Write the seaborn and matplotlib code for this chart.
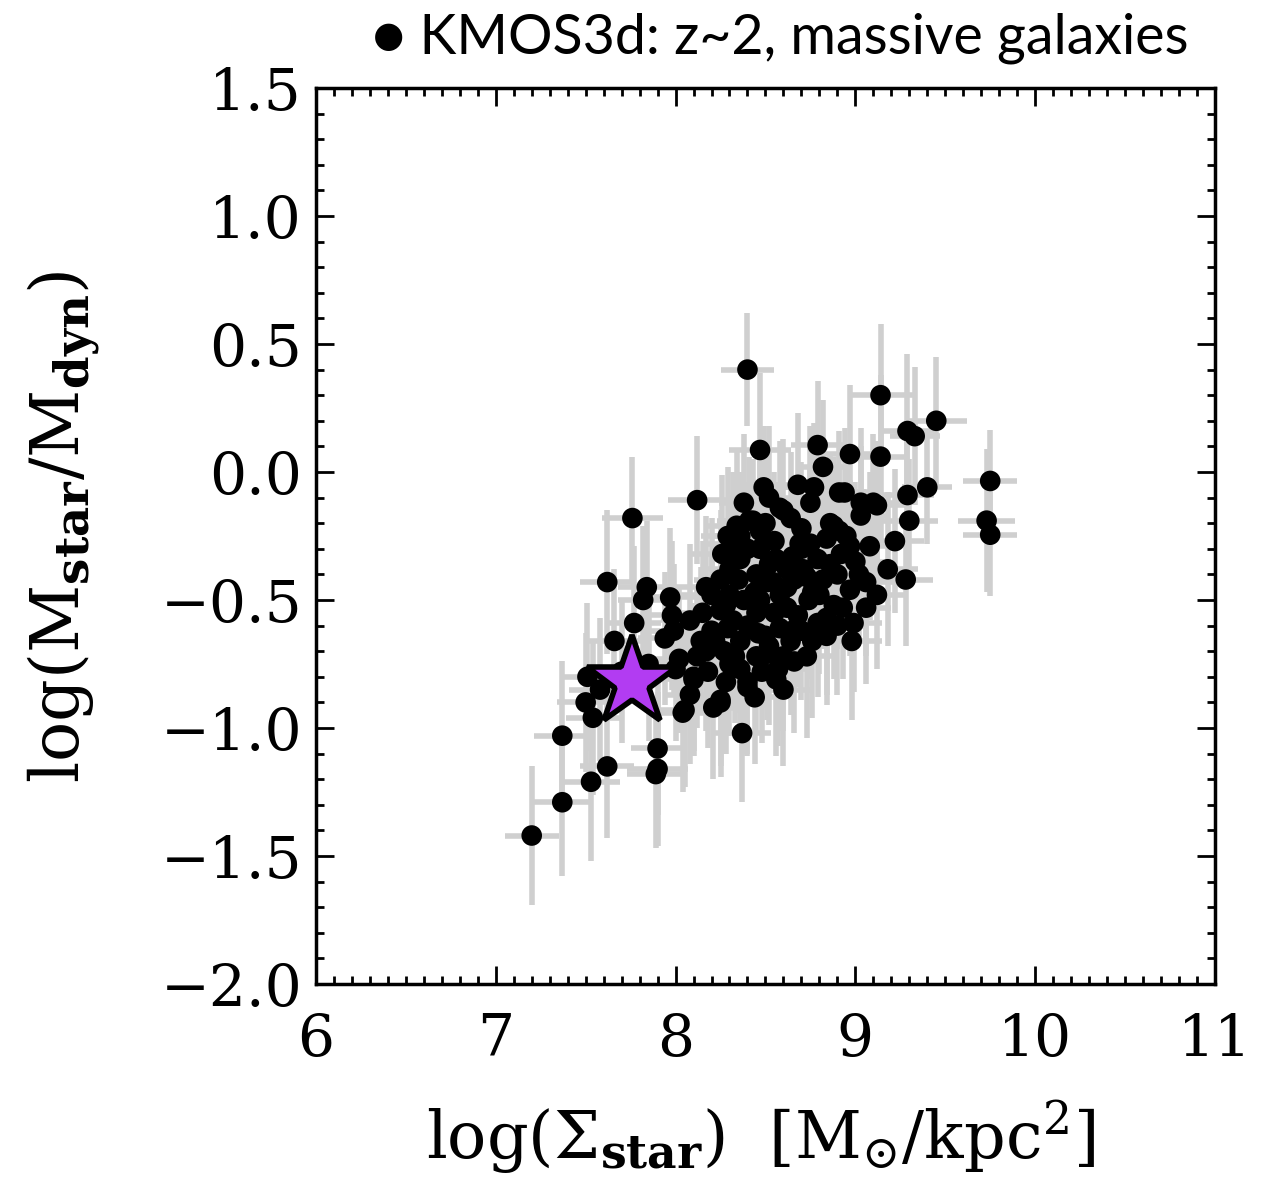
import numpy as np
import pandas as pd
import matplotlib
matplotlib.use("Agg")
import matplotlib.pyplot as plt
import seaborn as sns
from matplotlib.ticker import MultipleLocator

# --- upper / right outliers ---
x_upper = [8.40, 9.14, 9.29, 9.33, 9.45, 9.75, 9.73, 9.75,
           8.47, 8.79, 8.97, 9.14, 8.82, 8.49, 8.68, 8.77,
           9.29, 9.40, 9.30, 9.28, 9.18, 9.22, 8.94, 9.10,
           9.03, 8.91]
y_upper = [0.40, 0.30, 0.16, 0.14, 0.20, -0.035, -0.19, -0.245,
           0.086, 0.105, 0.07, 0.06, 0.02, -0.06, -0.05, -0.06,
           -0.09, -0.06, -0.19, -0.42, -0.38, -0.27, -0.08, -0.12,
           -0.12, -0.08]
xerr_upper = [0.15, 0.18, 0.16, 0.14, 0.17, 0.15, 0.16, 0.15,
              0.17, 0.15, 0.18, 0.16, 0.14, 0.17, 0.15, 0.16,
              0.15, 0.14, 0.16, 0.15, 0.17, 0.16, 0.15, 0.14,
              0.16, 0.15]
yerr_upper = [0.22, 0.28, 0.30, 0.27, 0.25, 0.20, 0.28, 0.24,
              0.30, 0.25, 0.27, 0.32, 0.26, 0.24, 0.28, 0.25,
              0.27, 0.22, 0.24, 0.26, 0.30, 0.28, 0.25, 0.27,
              0.29, 0.24]

# --- main cluster ---
x_core = [8.12, 8.60, 8.75, 8.58, 8.43, 8.34, 8.29, 8.26,
          8.36, 8.47, 8.56, 8.69, 8.71, 8.51, 8.41, 8.86,
          8.91, 8.75, 8.65, 8.36, 8.54, 8.73, 8.86, 8.97,
          9.06, 8.88, 8.79, 9.12, 8.47, 9.03, 8.97, 9.08,
          8.17, 8.08, 8.25, 8.32, 8.47, 8.62, 8.76, 8.84,
          8.58, 8.02, 8.17, 8.30, 8.45, 8.51, 8.64, 8.73,
          8.84, 8.36, 8.10, 8.40, 8.25, 8.04, 8.08, 8.56,
          8.29, 7.99, 8.40, 8.99, 9.06, 8.93, 8.65, 8.45,
          8.79, 8.37, 8.05, 8.21, 8.25, 8.10,
          8.45, 8.62, 8.70, 8.55, 8.90, 9.00, 8.35, 8.25,
          8.20, 8.40, 8.55, 8.68, 8.95, 8.30, 8.50, 8.38,
          8.62, 8.80, 8.15, 8.33, 8.18, 8.60, 8.48, 8.70,
          8.32, 8.40, 8.50, 8.52, 8.58, 8.66, 8.74, 8.82,
          8.88, 8.92, 8.44, 8.28, 8.22, 8.36, 8.52, 8.66,
          8.76, 8.90, 8.14, 8.28, 8.44, 8.60, 8.70, 8.84,
          8.64, 8.52, 8.38, 8.30, 8.20, 8.12, 9.02, 9.12,
          8.98, 8.46, 8.57, 8.27, 7.98, 8.00]
y_core = [-0.11, -0.15, -0.12, -0.14, -0.19, -0.21, -0.25, -0.32,
          -0.34, -0.30, -0.34, -0.28, -0.38, -0.43, -0.19, -0.20,
          -0.23, -0.28, -0.33, -0.25, -0.43, -0.41, -0.36, -0.46,
          -0.43, -0.21, -0.34, -0.13, -0.23, -0.17, -0.29, -0.29,
          -0.45, -0.58, -0.54, -0.58, -0.50, -0.53, -0.47, -0.57,
          -0.61, -0.73, -0.70, -0.75, -0.72, -0.71, -0.66, -0.72,
          -0.64, -0.66, -0.81, -0.84, -0.90, -0.94, -0.87, -0.81,
          -0.61, -0.62, -0.82, -0.59, -0.53, -0.53, -0.62, -0.55,
          -0.59, -1.02, -0.93, -0.92, -0.89, -0.80,
          -0.40, -0.45, -0.22, -0.27, -0.40, -0.35, -0.42, -0.42,
          -0.62, -0.60, -0.55, -0.56, -0.25, -0.48, -0.64, -0.50,
          -0.38, -0.48, -0.55, -0.72, -0.78, -0.72, -0.78, -0.62,
          -0.28, -0.30, -0.20, -0.36, -0.48, -0.42, -0.50, -0.42,
          -0.52, -0.32, -0.47, -0.52, -0.66, -0.77, -0.68, -0.74,
          -0.66, -0.60, -0.66, -0.82, -0.88, -0.85, -0.30, -0.26,
          -0.18, -0.10, -0.12, -0.38, -0.48, -0.72, -0.40, -0.48,
          -0.66, -0.63, -0.77, -0.70, -0.56, -0.77]
xerr_core = [0.16, 0.15, 0.17, 0.14, 0.16, 0.18, 0.15, 0.17,
             0.15, 0.16, 0.14, 0.17, 0.15, 0.16, 0.18, 0.15,
             0.17, 0.14, 0.16, 0.15, 0.17, 0.16, 0.15, 0.14,
             0.16, 0.15, 0.17, 0.16, 0.14, 0.15, 0.16, 0.17,
             0.18, 0.16, 0.15, 0.17, 0.14, 0.16, 0.15, 0.17,
             0.16, 0.18, 0.15, 0.16, 0.17, 0.14, 0.16, 0.15,
             0.17, 0.15, 0.16, 0.18, 0.17, 0.16, 0.15, 0.14,
             0.16, 0.17, 0.15, 0.16, 0.14, 0.15, 0.17, 0.16,
             0.15, 0.16, 0.17, 0.15, 0.16, 0.18,
             0.15, 0.16, 0.14, 0.17, 0.15, 0.16, 0.17, 0.15,
             0.16, 0.14, 0.17, 0.15, 0.16, 0.15, 0.17, 0.16,
             0.14, 0.16, 0.15, 0.17, 0.16, 0.15, 0.17, 0.16,
             0.15, 0.17, 0.16, 0.14, 0.16, 0.15, 0.17, 0.16,
             0.15, 0.16, 0.14, 0.17, 0.15, 0.16, 0.17, 0.15,
             0.16, 0.15, 0.17, 0.16, 0.14, 0.16, 0.15, 0.17,
             0.16, 0.15, 0.14, 0.16, 0.17, 0.15, 0.16, 0.15,
             0.17, 0.16, 0.15, 0.16, 0.17, 0.15]
yerr_core = [0.25, 0.28, 0.30, 0.26, 0.24, 0.29, 0.27, 0.31,
             0.26, 0.28, 0.30, 0.27, 0.29, 0.32, 0.25, 0.28,
             0.26, 0.30, 0.27, 0.25, 0.31, 0.28, 0.30, 0.26,
             0.29, 0.27, 0.28, 0.25, 0.30, 0.27, 0.26, 0.29,
             0.28, 0.30, 0.27, 0.31, 0.26, 0.29, 0.28, 0.30,
             0.27, 0.29, 0.31, 0.28, 0.30, 0.26, 0.29, 0.32,
             0.27, 0.28, 0.30, 0.26, 0.29, 0.31, 0.27, 0.30,
             0.28, 0.26, 0.29, 0.27, 0.30, 0.28, 0.26, 0.31,
             0.29, 0.27, 0.30, 0.28, 0.26, 0.29,
             0.28, 0.30, 0.26, 0.27, 0.29, 0.31, 0.28, 0.27,
             0.30, 0.26, 0.29, 0.28, 0.27, 0.30, 0.28, 0.29,
             0.27, 0.31, 0.28, 0.26, 0.30, 0.29, 0.28, 0.27,
             0.28, 0.26, 0.30, 0.27, 0.29, 0.28, 0.31, 0.27,
             0.29, 0.26, 0.28, 0.30, 0.27, 0.29, 0.31, 0.28,
             0.30, 0.27, 0.29, 0.28, 0.26, 0.30, 0.27, 0.29,
             0.26, 0.28, 0.27, 0.29, 0.30, 0.28, 0.27, 0.29,
             0.31, 0.28, 0.30, 0.27, 0.29, 0.28]

# --- lower-left tail ---
x_tail = [7.76, 7.62, 7.84, 7.82, 7.97, 7.77, 7.66, 7.94,
          7.51, 7.50, 7.54, 7.58, 7.37, 7.90, 7.90, 7.89,
          7.62, 7.53, 7.37, 7.20, 7.70, 7.85]
y_tail = [-0.18, -0.43, -0.45, -0.50, -0.49, -0.59, -0.66, -0.65,
          -0.80, -0.90, -0.96, -0.85, -1.03, -1.08, -1.16, -1.18,
          -1.15, -1.21, -1.29, -1.42, -0.78, -0.75]
xerr_tail = [0.17, 0.15, 0.16, 0.14, 0.17, 0.15, 0.16, 0.15,
             0.14, 0.16, 0.15, 0.17, 0.16, 0.15, 0.17, 0.16,
             0.15, 0.16, 0.17, 0.15, 0.16, 0.15]
yerr_tail = [0.24, 0.28, 0.26, 0.29, 0.27, 0.30, 0.28, 0.26,
             0.29, 0.27, 0.30, 0.28, 0.29, 0.26, 0.30, 0.29,
             0.28, 0.31, 0.29, 0.27, 0.28, 0.30]

# highlighted object
star_x = [7.76]
star_y = [-0.82]

df = pd.DataFrame({
    "sigma": x_upper + x_core + x_tail,
    "ratio": y_upper + y_core + y_tail,
    "xerr": xerr_upper + xerr_core + xerr_tail,
    "yerr": yerr_upper + yerr_core + yerr_tail,
})

sns.set_style("ticks")
plt.rcParams["mathtext.fontset"] = "dejavuserif"
plt.rcParams["font.family"] = ["DejaVu Serif"]
plt.rcParams["text.color"] = "black"
plt.rcParams["axes.labelcolor"] = "black"

fig = plt.figure(figsize=(12.73, 11.81), dpi=100)
ax = fig.add_axes([0.2482, 0.1668, 0.7062, 0.7587])

ax.errorbar(df["sigma"], df["ratio"], xerr=df["xerr"], yerr=df["yerr"],
            fmt="none", ecolor="#cfcfcf", elinewidth=4, capsize=0, zorder=1)
sns.scatterplot(data=df, x="sigma", y="ratio", ax=ax, color="black",
                s=220, edgecolor="none", linewidth=0, zorder=2, legend=False)
ax.plot(star_x, star_y, marker="*", markersize=68, color="#b23cf2",
        markeredgecolor="black", markeredgewidth=4, linestyle="none", zorder=3)

ax.set_xlim(6, 11)
ax.set_ylim(-2.0, 1.5)
ax.xaxis.set_major_locator(MultipleLocator(1))
ax.xaxis.set_minor_locator(MultipleLocator(0.1))
ax.yaxis.set_minor_locator(MultipleLocator(0.1))
ax.set_yticks([1.5, 1.0, 0.5, 0.0, -0.5, -1.0, -1.5, -2.0])
ax.set_yticklabels(["1.5", "1.0", "0.5", "0.0", "\u22120.5", "\u22121.0", "\u22121.5", "\u22122.0"])
ax.tick_params(which="both", direction="in", top=True, right=True,
               labelsize=42, width=2, color="black", labelcolor="black")
ax.tick_params(axis="x", pad=20)
ax.tick_params(axis="y", pad=10)
ax.tick_params(which="major", length=13)
ax.tick_params(which="minor", length=6)
for sp in ax.spines.values():
    sp.set_linewidth(2.5)
    sp.set_color("black")

ax.set_xlabel(r"$\mathrm{log(\Sigma_{\mathbf{star}})\ \ [M_{\odot}/kpc^{2}]}$", fontsize=47, color="black")
ax.set_ylabel(r"$\mathrm{log(M_{\mathbf{star}}/M_{\mathbf{dyn}})}$", fontsize=48, color="black")
ax.xaxis.set_label_coords(0.494, -0.128)
ax.yaxis.set_label_coords(-0.238, 0.51)

fig.text(0.613, 0.968, "\u25cf KMOS3d: z~2, massive galaxies", ha="center", va="center",
         fontsize=40, family=["Lato", "DejaVu Sans"], color="black")

fig.savefig("out.png", dpi=100)
